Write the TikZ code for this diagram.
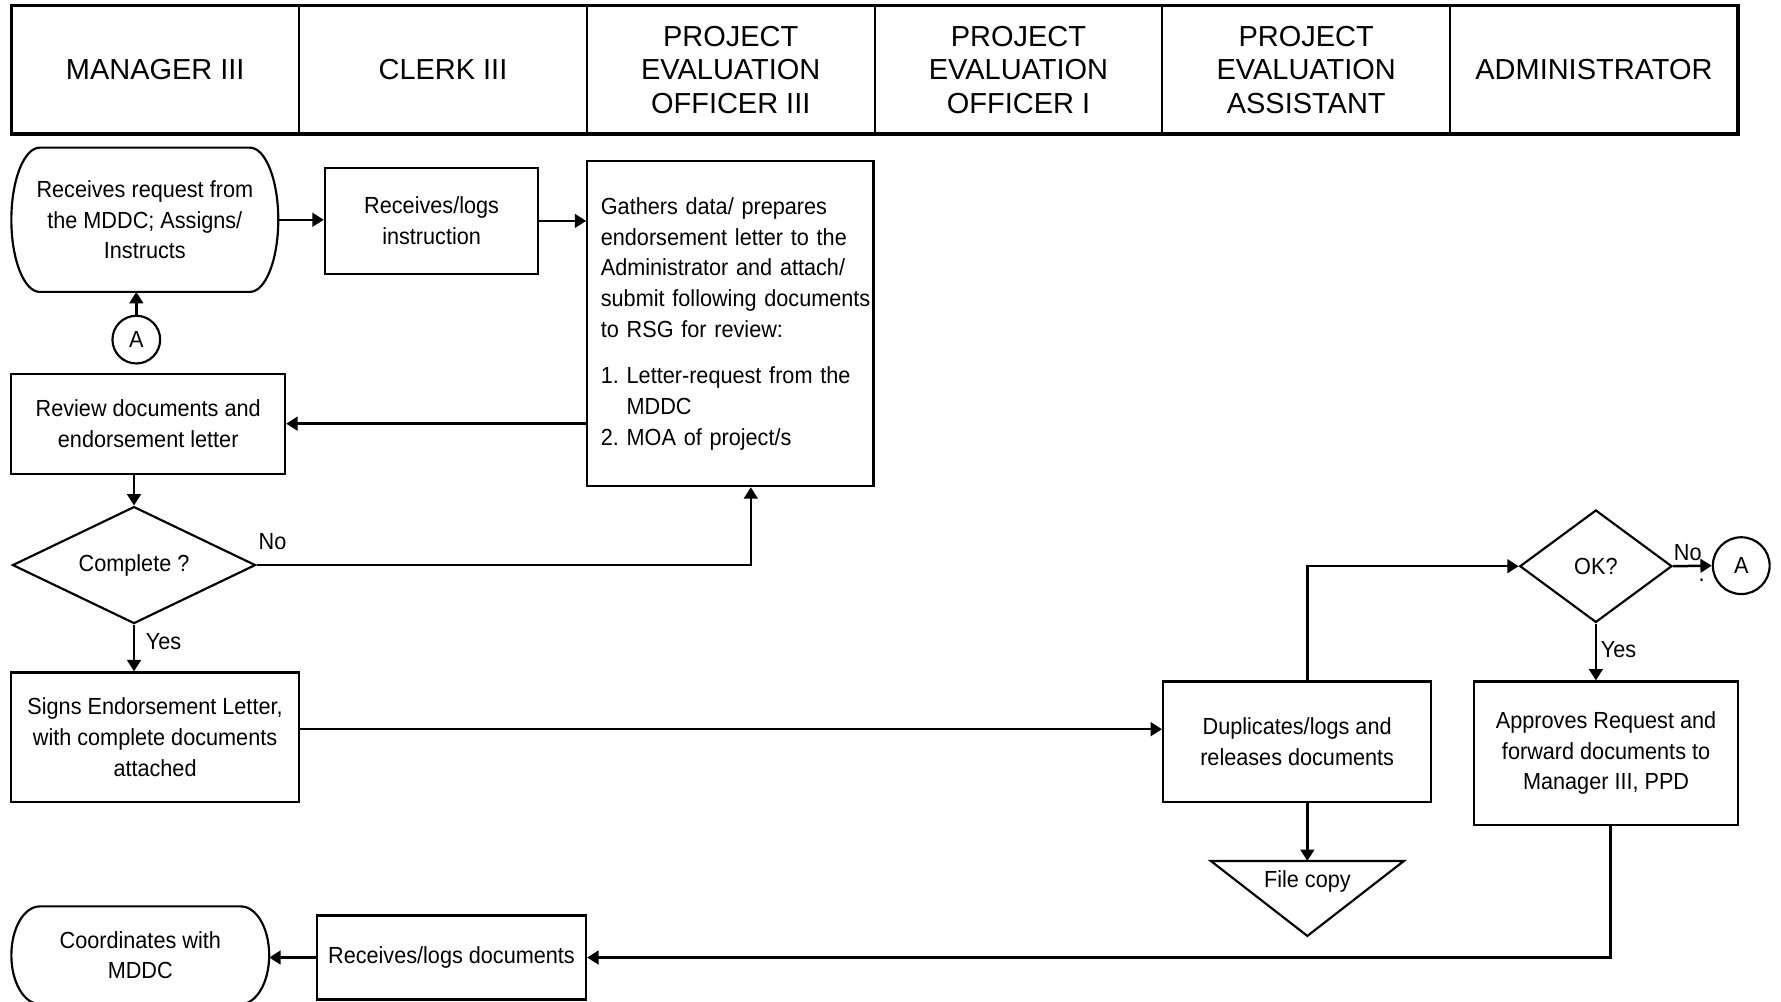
\documentclass[tikz,border=0pt]{standalone}
\usepackage{fontspec}
\setmainfont{Liberation Sans}
\newfontfamily\boxfont{Liberation Sans}[FakeStretch=0.93]
\usepackage{tikz}
\usetikzlibrary{arrows.meta,shapes.geometric}
\tikzset{>={Triangle[length=10pt,width=12pt]}}
\tikzset{
  headcell/.style={draw, line width=1.9pt, outer sep=0pt, inner sep=0pt, minimum width=253.33pt, minimum height=113pt, align=center, font=\rmfamily\fontsize{25.5}{29.5}\selectfont},
  stepbox/.style={draw, rectangle, inner sep=0pt, align=center},
  termbox/.style={rectangle, outer sep=0pt, inner sep=0pt, align=center},
  decision/.style={draw, diamond, aspect=2, inner sep=0pt},
  conn/.style={draw, circle, inner sep=0pt},
  link/.style={->, line width=2.2pt},
}

\begin{document}
\begin{tikzpicture}[x=1pt, y=-1pt, line width=1.9pt, font=\boxfont\fontsize{20.5}{27}\selectfont]
\useasboundingbox (0,0) rectangle (1568,882);
% lane headings
\foreach \hname [count=\i from 0] in {MANAGER III, CLERK III, {PROJECT\\EVALUATION\\OFFICER III}, {PROJECT\\EVALUATION\\OFFICER I}, {PROJECT\\EVALUATION\\ASSISTANT}, ADMINISTRATOR}
  \node[headcell] (hd\i) at ({136.67+253.33*\i},61.5) {\hname};
\draw[line width=3.2pt] (hd0.north west) rectangle (hd5.south east);

% manager III
\node[termbox, minimum width=235pt, minimum height=127pt] (start) at (127.5,193.5) {Receives request from\\the MDDC; Assigns/\\Instructs};
\draw ([xshift=25pt]start.north west) -- ([xshift=-25pt]start.north east) arc[start angle=90, end angle=-90, x radius=25pt, y radius=63.5pt] -- ([xshift=25pt]start.south west) arc[start angle=270, end angle=90, x radius=25pt, y radius=63.5pt] -- cycle;
\node[conn, minimum size=42pt] (A1) at (120,299) {A};
\node[stepbox, minimum width=241pt, minimum height=88pt] (review) at (130.5,373) {Review documents and\\endorsement letter};
\node[decision, minimum width=214pt, minimum height=103pt] (complete) at (118,497.5) {Complete ?};
\node[stepbox, minimum width=253pt, minimum height=114pt] (signs) at (136.5,649) {Signs Endorsement Letter,\\with complete documents\\attached};
\node[termbox, minimum width=227pt, minimum height=86pt] (coord) at (123.5,841) {Coordinates with\\MDDC};
\draw ([xshift=25pt]coord.north west) -- ([xshift=-25pt]coord.north east) arc[start angle=90, end angle=-90, x radius=25pt, y radius=43pt] -- ([xshift=25pt]coord.south west) arc[start angle=270, end angle=90, x radius=25pt, y radius=43pt] -- cycle;

% clerk III
\node[stepbox, minimum width=188pt, minimum height=93pt] (recv) at (380,194.5) {Receives/logs\\instruction};
\node[stepbox, minimum width=237pt, minimum height=74pt] (rlogs) at (397.5,843) {Receives/logs documents};

% project evaluation officer III
\node[stepbox, minimum width=252pt, minimum height=286pt, text width=228pt, align=left] (gather) at (643,285) {Gathers data/ prepares\\endorsement letter to the\\Administrator and attach/\\\mbox{submit following documents}\\to RSG for review:\\[14pt]1.\ Letter-request from the\\\phantom{1.\ }MDDC\\2.\ MOA of project/s};

% project evaluation assistant
\node[stepbox, minimum width=236pt, minimum height=106pt] (dup) at (1142,653) {Duplicates/logs and\\releases documents};
\node[outer sep=0pt, inner sep=0pt, minimum height=36pt] (filecopy) at (1151,776) {File copy};
\draw ([xshift=-85pt]filecopy.north) -- ([xshift=85pt]filecopy.north) -- ([yshift=-66pt]filecopy.north) -- cycle;

% administrator
\node[decision, minimum width=134pt, minimum height=99pt] (ok) at (1405,498.5) {OK?};
\node[conn, minimum size=50pt] (A2) at (1533,498) {A};
\node (dot) at (1498,511) {.};
\node[stepbox, minimum width=232pt, minimum height=126pt] (approve) at (1414,663) {Approves Request and\\forward documents to\\Manager III, PPD};

% connectors
\draw[link] (start.east) -- (start.east -| recv.west);
\draw[link] (recv.east) -- (recv.east -| gather.west);
\draw[link] (A1.north) -- (A1.north |- start.south);
\draw[link] (gather.west |- review.east) -- (review.east);
\draw[link] (complete.north |- review.south) -- (complete.north);
\draw[link] (complete.east) node[xshift=14pt, yshift=21pt]{No} -| ([xshift=18pt]gather.south);
\draw[link] (complete.south) node[xshift=26pt, yshift=-15pt]{Yes} -- (complete.south |- signs.north);
\draw[link] ([yshift=7pt]signs.east) -- ([yshift=7pt]signs.east -| dup.west);
\draw[link] ([xshift=9pt]dup.north) |- (ok.west);
\draw[link] ([xshift=9pt]dup.south) -- (filecopy.north);
\draw[link] (ok.east) node[xshift=13pt, yshift=12pt]{No} -- (A2.west);
\draw[link] (ok.south) node[xshift=20pt, yshift=-23pt]{Yes} -- (ok.south |- approve.north);
\draw[link] ([xshift=4pt]approve.south) |- (rlogs.east);
\draw[link] (rlogs.west) -- (rlogs.west -| coord.east);
\end{tikzpicture}
\end{document}
